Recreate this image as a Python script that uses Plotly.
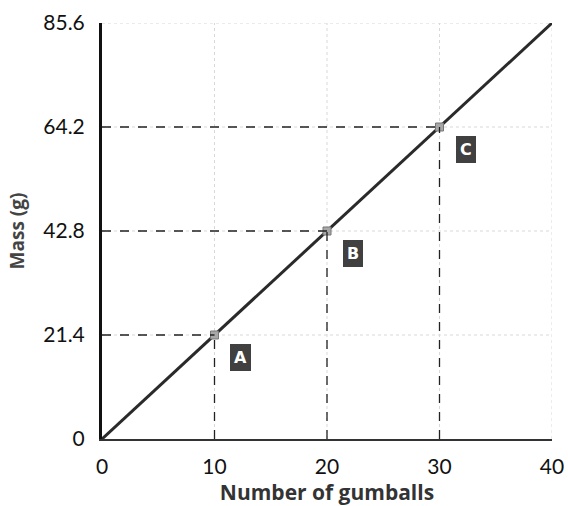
import plotly.graph_objects as go

line_x = [0, 40]
line_y = [0, 85.6]
pt_x = [10, 20, 30]
pt_y = [21.4, 42.8, 64.2]
pt_labels = ["A", "B", "C"]
x_ticks = [0, 10, 20, 30, 40]
y_ticks = [0, 21.4, 42.8, 64.2, 85.6]
y_tick_text = ["0", "21.4", "42.8", "64.2", "85.6"]

fig = go.Figure()

# faint dotted grid
for xv in x_ticks[1:]:
    fig.add_shape(type="line", x0=xv, x1=xv, y0=0, y1=y_ticks[-1],
                  line=dict(color="#d8d8d8", width=1, dash="dot"), layer="below")
for yv in y_ticks[1:]:
    fig.add_shape(type="line", x0=0, x1=x_ticks[-1], y0=yv, y1=yv,
                  line=dict(color="#d8d8d8", width=1, dash="dot"), layer="below")

# dashed guide lines to points
for xv, yv in zip(pt_x, pt_y):
    fig.add_shape(type="line", x0=0, x1=xv, y0=yv, y1=yv,
                  line=dict(color="#222", width=1.3, dash="dash"))
    fig.add_shape(type="line", x0=xv, x1=xv, y0=0, y1=yv,
                  line=dict(color="#222", width=1.3, dash="dash"))

fig.add_trace(go.Scatter(x=line_x, y=line_y, mode="lines",
                         line=dict(color="#2a2a2a", width=3), showlegend=False))
fig.add_trace(go.Scatter(x=pt_x, y=pt_y, mode="markers",
                         marker=dict(symbol="square", size=8, color="#a8a8a8",
                                     line=dict(color="#777", width=1)),
                         showlegend=False))

for xv, yv, lab in zip(pt_x, pt_y, pt_labels):
    fig.add_annotation(x=xv, y=yv, text="<b>" + lab + "</b>", showarrow=False,
                       xshift=26, yshift=-22, bgcolor="#404040",
                       bordercolor="#404040", borderwidth=1, borderpad=3,
                       font=dict(color="white", size=16, family="DejaVu Sans"))

fig.update_layout(
    width=568, height=506,
    margin=dict(l=102, r=16, t=23, b=67),
    plot_bgcolor="white", paper_bgcolor="white",
    font=dict(family="Lato, sans-serif", color="#111"),
    xaxis=dict(range=[0, 40], tickvals=x_ticks, showgrid=False, zeroline=False,
               showline=True, linecolor="#333", linewidth=2, automargin=False,
               ticks="outside", ticklen=8, tickcolor="rgba(0,0,0,0)",
               tickfont=dict(size=21, color="#111"),
               title=dict(text="<b>Number of gumballs</b>", standoff=2,
                          font=dict(size=21, family="Open Sans, sans-serif", color="#333"))),
    yaxis=dict(range=[0, 85.6], tickvals=y_ticks, ticktext=y_tick_text,
               showgrid=False, zeroline=False, automargin=False,
               ticks="outside", ticklen=10, tickcolor="rgba(0,0,0,0)",
               showline=True, linecolor="#111", linewidth=3,
               tickfont=dict(size=21, color="#111"),
               title=dict(text="<b>Mass (g)</b>", standoff=14,
                          font=dict(size=19, family="Open Sans, sans-serif", color="#444"))),
)

fig.write_html("out.html", config={"displayModeBar": False},
               post_script="document.body.style.margin='0';document.body.style.overflow='hidden';")
